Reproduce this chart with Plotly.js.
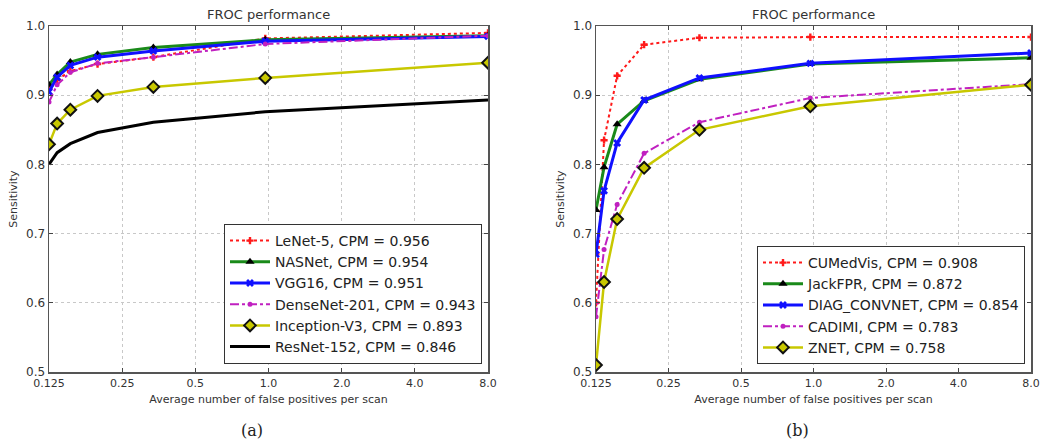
<!DOCTYPE html>
<html><head><meta charset="utf-8">
<script src="https://cdn.plot.ly/plotly-3.0.1.min.js"></script>
<style>body{margin:0;background:#fff}#chart{width:1045px;height:442px}</style>
</head><body><div id="chart"></div>
<script>
// x positions (false positives per scan)
const fpX = [0.125, 0.135, 0.153, 0.198, 0.336, 0.97, 8.0];
const tickVals = [0.125, 0.25, 0.5, 1, 2, 4, 8];
const tickText = ["0.125", "0.25", "0.5", "1.0", "2.0", "4.0", "8.0"];
const yTicks = [0.5, 0.6, 0.7, 0.8, 0.9, 1.0];
const yTickText = ["0.5", "0.6", "0.7", "0.8", "0.9", "1.0"];

// panel (a)
const namesA = ["LeNet-5, CPM = 0.956", "NASNet, CPM = 0.954", "VGG16, CPM = 0.951",
                "DenseNet-201, CPM = 0.943", "Inception-V3, CPM = 0.893", "ResNet-152, CPM = 0.846"];
const lenet5   = [0.910, 0.922, 0.935, 0.945, 0.955, 0.982, 0.990];
const nasnet   = [0.915, 0.930, 0.948, 0.959, 0.969, 0.980, 0.986];
const vgg16    = [0.905, 0.926, 0.943, 0.955, 0.964, 0.978, 0.985];
const densenet = [0.890, 0.915, 0.933, 0.946, 0.955, 0.974, 0.986];
const inception= [0.829, 0.859, 0.879, 0.899, 0.912, 0.925, 0.947];
const resnet   = [0.800, 0.817, 0.830, 0.846, 0.861, 0.876, 0.893];

// panel (b)
const namesB = ["CUMedVis, CPM = 0.908", "JackFPR, CPM = 0.872", "DIAG_CONVNET, CPM = 0.854",
                "CADIMI, CPM = 0.783", "ZNET, CPM = 0.758"];
const cumedvis = [0.600, 0.835, 0.928, 0.973, 0.983, 0.984, 0.984];
const jackfpr  = [0.734, 0.796, 0.858, 0.892, 0.923, 0.945, 0.954];
const diag     = [0.670, 0.762, 0.831, 0.893, 0.925, 0.946, 0.961];
const cadimi   = [0.580, 0.677, 0.742, 0.816, 0.861, 0.896, 0.916];
const znet     = [0.510, 0.630, 0.721, 0.795, 0.850, 0.884, 0.915];

const RED = "#ff1a1a", GREEN = "#1a8a1a", BLUE = "#1010ff", MAG = "#c020c0", YEL = "#c8c800";

const styles = [
  {line:{color:RED, width:2, dash:"dot"}, marker:{symbol:"cross", size:6, color:RED}},
  {line:{color:GREEN, width:3}, marker:{symbol:"triangle-up", size:8, color:"#000"}},
  {line:{color:BLUE, width:3}, marker:{symbol:"x", size:7, color:BLUE}},
  {line:{color:MAG, width:2, dash:"dashdot"}, marker:{symbol:"circle", size:5, color:MAG}},
  {line:{color:YEL, width:2.5}, marker:{symbol:"diamond", size:9, color:YEL, line:{color:"#111", width:2}}},
];

function tr(x, y, name, st, xa, ya, lg, mode) {
  return {x:x, y:y, name:name, type:"scatter", mode: mode || "lines+markers",
          line:st.line, marker:st.marker, xaxis:xa, yaxis:ya, legend:lg};
}

const data = [
  tr(fpX, lenet5, namesA[0], styles[0], "x", "y", "legend"),
  tr(fpX, nasnet, namesA[1], styles[1], "x", "y", "legend"),
  tr(fpX, vgg16, namesA[2], styles[2], "x", "y", "legend"),
  tr(fpX, densenet, namesA[3], styles[3], "x", "y", "legend"),
  tr(fpX, inception, namesA[4], styles[4], "x", "y", "legend"),
  tr(fpX, resnet, namesA[5], {line:{color:"#000", width:3}, marker:{}}, "x", "y", "legend", "lines"),
  tr(fpX, cumedvis, namesB[0], styles[0], "x2", "y2", "legend2"),
  tr(fpX, jackfpr, namesB[1], styles[1], "x2", "y2", "legend2"),
  tr(fpX, diag, namesB[2], styles[2], "x2", "y2", "legend2"),
  tr(fpX, cadimi, namesB[3], styles[3], "x2", "y2", "legend2"),
  tr(fpX, znet, namesB[4], styles[4], "x2", "y2", "legend2"),
];

const font = {family:"DejaVu Sans", size:12, color:"#333"};
function xax(dom, anchor) {
  return {domain:dom, anchor:anchor, type:"log", range:[Math.log10(0.125), Math.log10(8)],
    tickvals:tickVals, ticktext:tickText, ticks:"inside", ticklen:4, tickcolor:"#444",
    showline:true, mirror:"ticks", linecolor:"#555", linewidth:1.5,
    showgrid:true, gridcolor:"#c8c8c8", griddash:"dot", gridwidth:1, zeroline:false,
    tickfont:{family:"DejaVu Sans", size:11, color:"#333"},
    title:{text:"Average number of false positives per scan", font:{family:"DejaVu Sans", size:11, color:"#333"}, standoff:6}};
}
function yax(dom, anchor) {
  return {domain:dom, anchor:anchor, range:[0.5, 1.0],
    tickvals:yTicks, ticktext:yTickText, ticks:"inside", ticklen:4, tickcolor:"#444",
    showline:true, mirror:"ticks", linecolor:"#555", linewidth:1.5,
    showgrid:true, gridcolor:"#c8c8c8", griddash:"dot", gridwidth:1, zeroline:false,
    tickfont:{family:"DejaVu Sans", size:12, color:"#333"},
    title:{text:"Sensitivity", font:{family:"DejaVu Sans", size:11, color:"#333"}, standoff:6}};
}
const yDom = [1 - 372/442, 1 - 26/442];
const layout = {
  width:1045, height:442, margin:{l:0, r:0, t:0, b:0},
  paper_bgcolor:"#fff", plot_bgcolor:"#fff", font:font, showlegend:true,
  xaxis: xax([49/1045, 488/1045], "y"),
  yaxis: yax(yDom, "x"),
  xaxis2: xax([596/1045, 1031/1045], "y2"),
  yaxis2: yax(yDom, "x2"),
  legend: {x:482/1045, y:1-364/442, xanchor:"right", yanchor:"bottom", bgcolor:"#fff",
           bordercolor:"#333", borderwidth:1, font:{family:"DejaVu Sans", size:14, color:"#222"},
           tracegroupgap:0, itemwidth:40},
  legend2: {x:1025/1045, y:1-364/442, xanchor:"right", yanchor:"bottom", bgcolor:"#fff",
           bordercolor:"#333", borderwidth:1, font:{family:"DejaVu Sans", size:14, color:"#222"},
           tracegroupgap:0, itemwidth:40},
  annotations: [
    {text:"FROC performance", xref:"paper", yref:"paper", x:(49+488)/2/1045, y:1-15/442, showarrow:false,
     font:{family:"DejaVu Sans", size:13, color:"#333"}, xanchor:"center", yanchor:"middle"},
    {text:"FROC performance", xref:"paper", yref:"paper", x:(596+1031)/2/1045, y:1-15/442, showarrow:false,
     font:{family:"DejaVu Sans", size:13, color:"#333"}, xanchor:"center", yanchor:"middle"},
    {text:"(a)", xref:"paper", yref:"paper", x:252/1045, y:1-430/442, showarrow:false,
     font:{family:"DejaVu Serif", size:16, color:"#222"}, xanchor:"center", yanchor:"middle"},
    {text:"(b)", xref:"paper", yref:"paper", x:797/1045, y:1-430/442, showarrow:false,
     font:{family:"DejaVu Serif", size:16, color:"#222"}, xanchor:"center", yanchor:"middle"}
  ]
};
Plotly.newPlot("chart", data, layout, {displayModeBar:false, staticPlot:true});
</script></body></html>
